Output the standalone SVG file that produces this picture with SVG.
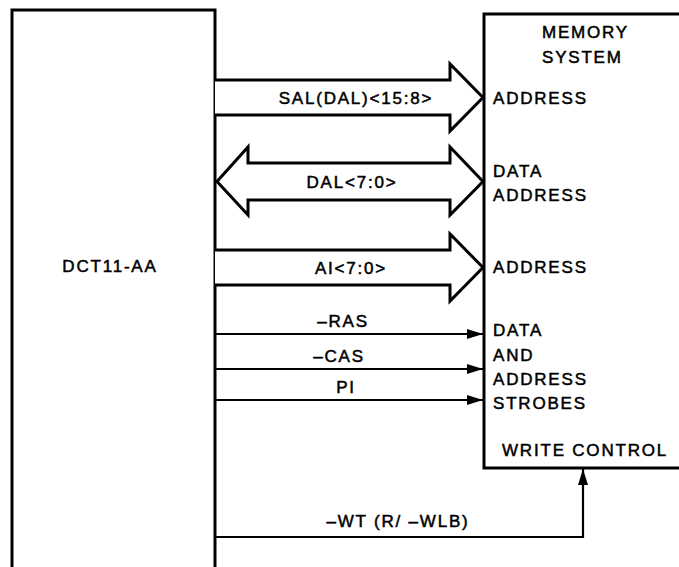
<svg xmlns="http://www.w3.org/2000/svg" width="679" height="567" viewBox="0 0 679 567">
<defs>
<style>
.ln{fill:none;stroke:#000;stroke-width:3;stroke-linejoin:miter}
.bus{fill:#fff;stroke:#000;stroke-width:3;stroke-linejoin:miter}
.sig{fill:none;stroke:#000;stroke-width:2.2}
text{font-family:"Liberation Sans",Arial,sans-serif;font-size:17px;letter-spacing:1.8px;fill:#000;stroke:#000;stroke-width:0.5}
.c{text-anchor:middle}
</style>
<marker id="ah" viewBox="0 0 16 10" refX="16" refY="5" markerWidth="16" markerHeight="10" markerUnits="userSpaceOnUse" orient="auto">
<path d="M0,0 L16,5 L0,10 Z" fill="#000"/>
</marker>
</defs>
<rect width="679" height="567" fill="#fff"/>
<g id="dct11">
<path class="ln" d="M12,570 L12,10 L215,10 L215,570"/>
<text x="110" y="272" class="c">DCT11-AA</text>
</g>
<g id="memory">
<path class="ln" d="M682,14 L484,14 L484,468 L682,468"/>
<text x="542" y="38">MEMORY</text>
<text x="542" y="63">SYSTEM</text>
<text x="493" y="104">ADDRESS</text>
<text x="493" y="177">DATA</text>
<text x="493" y="201">ADDRESS</text>
<text x="493" y="273">ADDRESS</text>
<text x="493" y="336">DATA</text>
<text x="493" y="361">AND</text>
<text x="493" y="385">ADDRESS</text>
<text x="493" y="409">STROBES</text>
<text x="502" y="456">WRITE CONTROL</text>
</g>
<g id="connectors">
<path class="bus" d="M215,80 L450,80 L450,64 L483,97.5 L450,131 L450,115 L215,115"/>
<text x="356" y="104" class="c">SAL(DAL)&lt;15:8&gt;</text>
<path class="bus" d="M217,181.5 L248,147 L248,163 L450,163 L450,147 L483,181.5 L450,215 L450,200 L248,200 L248,215 Z"/>
<text x="352" y="188" class="c">DAL&lt;7:0&gt;</text>
<path class="bus" d="M215,250 L450,250 L450,234 L483,267.5 L450,301 L450,285 L215,285"/>
<text x="351" y="274" class="c">AI&lt;7:0&gt;</text>
<path class="sig" d="M215,334 L483,334" marker-end="url(#ah)"/>
<text x="343" y="327" class="c">–RAS</text>
<path class="sig" d="M215,369 L483,369" marker-end="url(#ah)"/>
<text x="339" y="362" class="c">–CAS</text>
<path class="sig" d="M215,400 L483,400" marker-end="url(#ah)"/>
<text x="346" y="393" class="c">PI</text>
<path class="sig" d="M215,537 L583,537 L583,469" marker-end="url(#ah)"/>
<text x="398" y="527" class="c">–WT (R/ –WLB)</text>
</g>
</svg>
